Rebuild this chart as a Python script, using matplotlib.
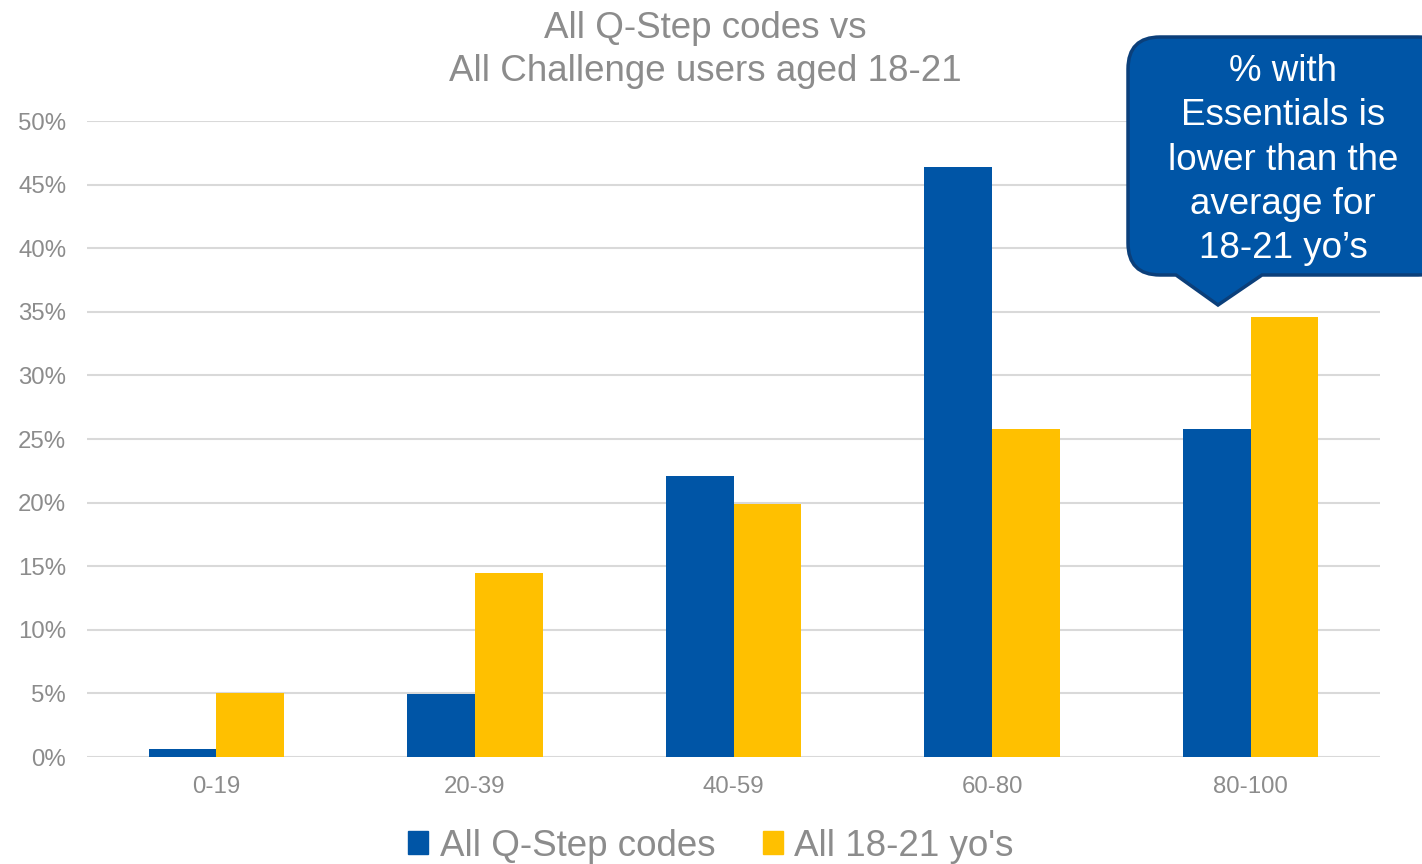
import numpy as np
import matplotlib.pyplot as plt
from matplotlib.path import Path
from matplotlib.patches import PathPatch, Patch

plt.rcParams['font.family'] = ['Liberation Sans', 'DejaVu Sans']

categories = ['0-19', '20-39', '40-59', '60-80', '80-100']
qstep = [0.6, 4.95, 22.1, 46.4, 25.8]
age_18_21 = [5.0, 14.5, 19.9, 25.8, 34.6]
series_names = ['All Q-Step codes', "All 18-21 yo's"]
yticks = [0, 5, 10, 15, 20, 25, 30, 35, 40, 45, 50]

BLUE = '#0055A6'
YELLOW = '#FFC000'
GREY = '#8C8C8C'
W, H = 1422, 864

fig = plt.figure(figsize=(W / 100, H / 100), dpi=100)
ax = fig.add_axes([87 / W, 1 - 757 / H, (1380 - 87) / W, (757 - 121) / H])

x = np.arange(len(categories))
bw = 0.262
ax.bar(x - bw / 2, qstep, width=bw, color=BLUE, zorder=3)
ax.bar(x + bw / 2, age_18_21, width=bw, color=YELLOW, zorder=3)

ax.set_xlim(-0.5, len(categories) - 0.5)
ax.set_ylim(0, 50)
ax.set_yticks(yticks)
ax.set_yticklabels([f'{v}%' for v in yticks])
ax.set_xticks(x)
ax.set_xticklabels(categories)
ax.tick_params(length=0, colors=GREY, labelsize=17.3)
ax.tick_params(axis='x', pad=14)
ax.tick_params(axis='y', pad=15)
ax.grid(axis='y', color='#D9D9D9', lw=1.5, zorder=0)
for s in ax.spines.values():
    s.set_visible(False)

fig.text(705 / W, 1 - 50 / H, 'All Q-Step codes vs\nAll Challenge users aged 18-21',
         ha='center', va='center', fontsize=26.5, color=GREY, linespacing=1.32)

handles = [Patch(color=BLUE), Patch(color=YELLOW)]
fig.legend(handles, series_names, loc='center', bbox_to_anchor=(711 / W, 1 - 846 / H),
           ncol=2, frameon=False, fontsize=26.5, labelcolor=GREY,
           handlelength=0.55, handleheight=0.55, handletextpad=0.3, columnspacing=1.3)


# callout box with pointer, in pixel coords (top-left origin)
def pt(px, py):
    return (px / W, 1 - py / H)


L, R, T, B, r = 1128, 1450, 37, 275, 32
tipx, tipy = 1218, 305
verts = [pt(L + r, T), pt(R - r, T), pt(R, T), pt(R, T + r), pt(R, B - r), pt(R, B), pt(R - r, B),
         pt(1262, B), pt(tipx, tipy), pt(1176, B),
         pt(L + r, B), pt(L, B), pt(L, B - r), pt(L, T + r), pt(L, T), pt(L + r, T), pt(L + r, T)]
codes = [Path.MOVETO, Path.LINETO, Path.CURVE3, Path.CURVE3, Path.LINETO, Path.CURVE3, Path.CURVE3,
         Path.LINETO, Path.LINETO, Path.LINETO,
         Path.LINETO, Path.CURVE3, Path.CURVE3, Path.LINETO, Path.CURVE3, Path.CURVE3, Path.CLOSEPOLY]
fig.patches.append(PathPatch(Path(verts, codes), transform=fig.transFigure, facecolor=BLUE,
                             edgecolor='#0B3F7A', lw=2.5, zorder=5))
fig.text(1283 / W, 1 - 160 / H, "% with\nEssentials is\nlower than the\naverage for\n18-21 yo\u2019s",
         ha='center', va='center', fontsize=26.5, color='white', linespacing=1.35, zorder=6)

fig.savefig('out.png', dpi=100)
